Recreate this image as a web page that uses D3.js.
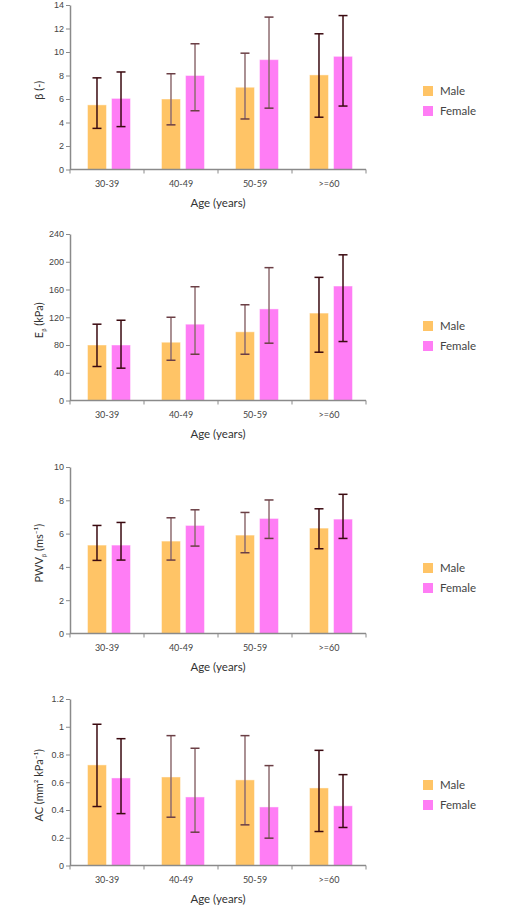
<!DOCTYPE html>
<html>
<head>
<meta charset="utf-8">
<script src="https://cdn.jsdelivr.net/npm/d3@7"></script>
<style>
  body { margin: 0; background: #fff; }
  svg { display: block; font-family: Lato, "Open Sans", sans-serif; }
</style>
</head>
<body>
<svg id="chart" width="528" height="906"></svg>
<script>
// Age groups on the x axis
const ageGroups = ["30-39", "40-49", "50-59", ">=60"];
const sexes = ["Male", "Female"];

// beta stiffness index (-)
const betaMale = [5.5, 6.0, 7.0, 8.05];
const betaMaleHi = [7.8, 8.15, 9.9, 11.55];
const betaMaleLo = [3.5, 3.8, 4.3, 4.45];
const betaFemale = [6.05, 8.0, 9.35, 9.63];
const betaFemaleHi = [8.3, 10.7, 12.97, 13.1];
const betaFemaleLo = [3.65, 5.0, 5.22, 5.4];

// E_beta (kPa)
const epMale = [80, 84, 99, 126];
const epMaleHi = [110, 120, 138, 177.5];
const epMaleLo = [49, 58, 66.7, 69.6];
const epFemale = [80, 110, 132, 165];
const epFemaleHi = [115.7, 164, 191.5, 210];
const epFemaleLo = [46.6, 66.7, 82.6, 85];

// PWV_beta (m/s)
const pwvMale = [5.31, 5.55, 5.91, 6.33];
const pwvMaleHi = [6.49, 6.95, 7.27, 7.49];
const pwvMaleLo = [4.39, 4.41, 4.85, 5.09];
const pwvFemale = [5.31, 6.49, 6.91, 6.87];
const pwvFemaleHi = [6.67, 7.43, 8.02, 8.36];
const pwvFemaleLo = [4.41, 5.25, 5.71, 5.71];

// Arterial compliance (mm2/kPa)
const acMale = [0.725, 0.638, 0.617, 0.559];
const acMaleHi = [1.018, 0.936, 0.936, 0.83];
const acMaleLo = [0.425, 0.348, 0.293, 0.245];
const acFemale = [0.631, 0.494, 0.422, 0.43];
const acFemaleHi = [0.914, 0.845, 0.72, 0.655];
const acFemaleLo = [0.374, 0.24, 0.197, 0.274];

// Y axis ticks per panel
const betaTicks = [0, 2, 4, 6, 8, 10, 12, 14];
const epTicks = [0, 40, 80, 120, 160, 200, 240];
const pwvTicks = [0, 2, 4, 6, 8, 10];
const acTicks = [0, 0.2, 0.4, 0.6, 0.8, 1, 1.2];

const colors = { Male: "#FFC466", Female: "#FF7DF5" };

const panels = [
  { top: 5, ticks: betaTicks, title: "beta", legendY: 91,
    male: [betaMale, betaMaleLo, betaMaleHi], female: [betaFemale, betaFemaleLo, betaFemaleHi] },
  { top: 234, ticks: epTicks, title: "ep", legendY: 326,
    male: [epMale, epMaleLo, epMaleHi], female: [epFemale, epFemaleLo, epFemaleHi] },
  { top: 467, ticks: pwvTicks, title: "pwv", legendY: 568,
    male: [pwvMale, pwvMaleLo, pwvMaleHi], female: [pwvFemale, pwvFemaleLo, pwvFemaleHi] },
  { top: 699, ticks: acTicks, title: "ac", legendY: 785,
    male: [acMale, acMaleLo, acMaleHi], female: [acFemale, acFemaleLo, acFemaleHi] }
];

const svg = d3.select("#chart");
const left = 70, right = 366;
const plotBottoms = [169.5, 400.5, 633.5, 865.5];

const x = d3.scaleBand().domain(ageGroups).range([left, right]).padding(0);
const xSex = d3.scaleBand().domain(sexes).range([17.5, 60.5]).paddingInner(0.21);

panels.forEach((p, pi) => {
  const bottom = plotBottoms[pi];
  const y = d3.scaleLinear()
    .domain([0, d3.max(p.ticks)])
    .range([bottom, p.top]);

  const g = svg.append("g");

  // bars + error bars
  const rows = [];
  ageGroups.forEach((a, i) => {
    rows.push({ age: a, i, sex: "Male", v: p.male[0][i], lo: p.male[1][i], hi: p.male[2][i] });
    rows.push({ age: a, i, sex: "Female", v: p.female[0][i], lo: p.female[1][i], hi: p.female[2][i] });
  });

  g.selectAll(".bar")
    .data(rows)
    .enter()
    .append("rect")
    .attr("class", "bar")
    .attr("x", d => x(d.age) + xSex(d.sex))
    .attr("y", d => y(d.v))
    .attr("width", xSex.bandwidth())
    .attr("height", d => bottom - y(d.v))
    .attr("fill", d => colors[d.sex])
    .attr("stroke", "rgba(255,255,255,0.45)")
    .attr("stroke-width", 1);

  const cx = d => x(d.age) + xSex(d.sex) + xSex.bandwidth() / 2;
  // middle groups have a faded stem in the original
  const stemColor = d => (d.i === 1 || d.i === 2) ? "#8e6c70" : "#3b0a10";

  g.selectAll(".err")
    .data(rows)
    .enter()
    .append("line")
    .attr("x1", cx).attr("x2", cx)
    .attr("y1", d => y(d.lo)).attr("y2", d => y(d.hi))
    .attr("stroke", stemColor)
    .attr("stroke-width", 1.5);

  ["lo", "hi"].forEach(k => {
    g.selectAll(".cap-" + k)
      .data(rows)
      .enter()
      .append("line")
      .attr("x1", d => cx(d) - 4.5).attr("x2", d => cx(d) + 4.5)
      .attr("y1", d => y(d[k])).attr("y2", d => y(d[k]))
      .attr("stroke", d => (d.i === 1 || d.i === 2) ? "#6b3f45" : "#3b0a10")
      .attr("stroke-width", 1.5);
  });

  // y axis
  const yAxis = g.append("g")
    .attr("transform", `translate(${left},0)`)
    .call(d3.axisLeft(y).tickValues(p.ticks).tickSize(4).tickSizeOuter(0).tickFormat(d3.format("~g")));
  yAxis.select(".domain").attr("stroke", "#8a8a8a").attr("stroke-width", 1.5);
  yAxis.selectAll(".tick line").attr("stroke", "#8a8a8a");
  yAxis.selectAll(".tick text")
    .attr("x", -6)
    .attr("fill", "#444")
    .style("font-size", "9px");

  // x axis line + boundary ticks
  g.append("line")
    .attr("x1", left).attr("x2", right)
    .attr("y1", bottom).attr("y2", bottom)
    .attr("stroke", "#8a8a8a").attr("stroke-width", 1.5);
  const bounds = ageGroups.map(a => x(a)).concat([right]);
  g.selectAll(".xtick")
    .data(bounds)
    .enter()
    .append("line")
    .attr("x1", d => d).attr("x2", d => d)
    .attr("y1", bottom).attr("y2", bottom + 4)
    .attr("stroke", "#8a8a8a").attr("stroke-width", 1);
  g.selectAll(".xlabel")
    .data(ageGroups)
    .enter()
    .append("text")
    .attr("x", d => x(d) + x.bandwidth() / 2)
    .attr("y", bottom + 17)
    .attr("text-anchor", "middle")
    .attr("fill", "#444")
    .style("font-size", "9px")
    .text(d => d);

  // axis titles
  g.append("text")
    .attr("x", (left + right) / 2)
    .attr("y", bottom + 37)
    .attr("text-anchor", "middle")
    .attr("fill", "#333")
    .style("font-size", "11.5px")
    .text("Age (years)");

  const yt = g.append("text")
    .attr("transform", `translate(43,${(p.top + bottom) / 2 + 3}) rotate(-90)`)
    .attr("text-anchor", "middle")
    .attr("fill", "#333")
    .style("font-size", "11px");
  if (p.title === "beta") {
    yt.text("β (-)");
  } else if (p.title === "ep") {
    yt.append("tspan").text("E");
    yt.append("tspan").attr("dy", 3).style("font-size", "6px").text("β");
    yt.append("tspan").attr("dy", -3).text(" (kPa)");
  } else if (p.title === "pwv") {
    yt.append("tspan").text("PWV");
    yt.append("tspan").attr("dy", 3).style("font-size", "6px").text("β");
    yt.append("tspan").attr("dy", -3).text(" (ms⁻¹)");
  } else {
    yt.text("AC (mm² kPa⁻¹)");
  }

  // legend
  const lg = g.append("g").attr("transform", `translate(423,${p.legendY})`);
  sexes.forEach((s, i) => {
    lg.append("rect")
      .attr("x", 0).attr("y", i * 20 - 5)
      .attr("width", 10).attr("height", 10)
      .attr("fill", colors[s]);
    lg.append("text")
      .attr("x", 17).attr("y", i * 20 + 4)
      .attr("fill", "#444")
      .style("font-size", "11.5px")
      .text(s);
  });
});
</script>
</body>
</html>
